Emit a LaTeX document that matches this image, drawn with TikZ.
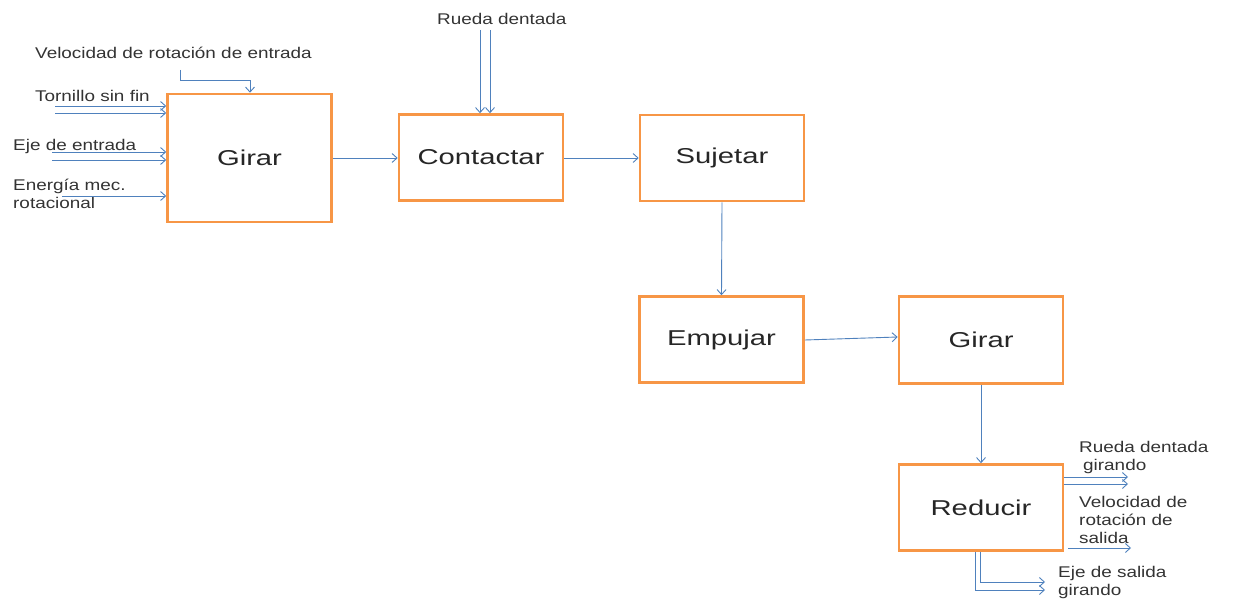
\documentclass[tikz,border=0pt]{standalone}
\usepackage{fontspec}
\setmainfont{Liberation Sans}[FakeStretch=1.22]
\newfontfamily\boxfont{Liberation Sans}[FakeStretch=1.36]
\usetikzlibrary{arrows.meta}
\definecolor{boxorange}{HTML}{F79646}
\definecolor{arrblue}{HTML}{4F81BD}
\begin{document}
\begin{tikzpicture}[x=1pt,y=-1pt,
  fbox/.style={draw=boxorange,line width=2.6pt,minimum width=164pt,inner sep=0pt,font=\boxfont\fontsize{21.5}{26}\selectfont,text=black!85},
  conn/.style={draw=arrblue,line width=0.9pt,-{Straight Barb[length=5pt,width=9pt]}},
  lab/.style={anchor=base west,inner sep=0pt,font=\fontsize{15.5}{18}\selectfont,text=black!80,align=left}]
\useasboundingbox (0,0) rectangle (1234,602);
% boxes
\node[fbox,minimum width=164pt,minimum height=128pt] (g1) at (249.5,158) {Girar};
\node[fbox,minimum height=86pt] (co) at (481,157.5) {Contactar};
\node[fbox,minimum height=86pt] (su) at (722,158) {Sujetar};
\node[fbox,minimum height=86pt] (em) at (721.5,339.5) {Empujar};
\node[fbox,minimum height=87pt] (g2) at (981,340) {Girar};
\node[fbox,minimum height=86pt] (re) at (981,507.5) {Reducir};
% main flow
\draw[conn] (g1.east |- 0,158) -- (co.west |- 0,158);
\draw[conn] (co.east |- 0,158) -- (su.west |- 0,158);
\draw[conn] (su.south) -- (em.north);
\draw[conn] (em.east |- 0,340) -- (g2.west |- 0,337);
\draw[conn] (g2.south) -- (re.north);
% input labels
\node[lab] (lvel) at (35,59) {Velocidad de rotación de entrada};
\node[lab] (ltor) at (35,101) {Tornillo sin fin};
\node[lab] (leje) at (13,150) {Eje de entrada};
\node[lab] (lene) at (13,208) {Energía mec.\\rotacional};
\node[lab] (lrue) at (437,25) {Rueda dentada};
% input arrows
\coordinate (v0) at (180,70);
\draw[conn] (v0) -- (180,80) -- (250,80) -- (g1.north -| 250,0);
\coordinate (t1) at (55,106); \coordinate (t2) at (55,113);
\draw[conn] (t1) -- (g1.west |- t1);
\draw[conn] (t2) -- (g1.west |- t2);
\coordinate (e1) at (52,152); \coordinate (e2) at (52,160);
\draw[conn] (e1) -- (g1.west |- e1);
\draw[conn] (e2) -- (g1.west |- e2);
\coordinate (m1) at (62,196);
\draw[conn] (m1) -- (g1.west |- m1);
\coordinate (r1) at (480,30); \coordinate (r2) at (490,30);
\draw[conn] (r1) -- (co.north -| r1);
\draw[conn] (r2) -- (co.north -| r2);
% outputs
\node[lab] (lorue) at (1079,470) {Rueda dentada\\\hspace*{4pt}girando};
\node[lab] (lovel) at (1079,543) {Velocidad de\\rotación de\\salida};
\node[lab] (loeje) at (1058,595) {Eje de salida\\girando};
\coordinate (o1) at (1128,477); \coordinate (o2) at (1128,484);
\draw[conn] (re.east |- o1) -- (o1);
\draw[conn] (re.east |- o2) -- (o2);
\coordinate (o3) at (1131,548);
\draw[conn] (1068,548) -- (o3);
\coordinate (o4) at (1045,582); \coordinate (o5) at (1045,590);
\draw[conn] (re.south -| 980,0) -- (980,582) -- (o4);
\draw[conn] (re.south -| 975,0) -- (975,590) -- (o5);
\end{tikzpicture}
\end{document}
